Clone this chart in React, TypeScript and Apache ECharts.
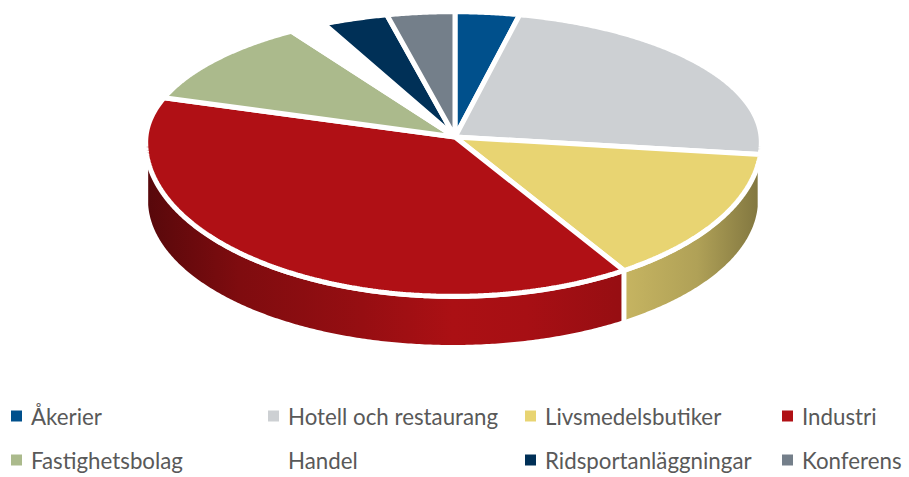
import React, { useEffect, useRef } from "react";
import * as echarts from "echarts";

const categories = ["Åkerier", "Hotell och restaurang", "Livsmedelsbutiker", "Industri", "Fastighetsbolag", "Handel", "Ridsportanläggningar", "Konferens"];
const values = [3.75, 23.25, 14.7, 37.9, 10.65, 2.05, 3.75, 3.95];
const colors = ["#00508C", "#CDD0D3", "#E8D472", "#B01015", "#ABBA8C", "#FFFFFF", "#003057", "#747F8A"];
const legendX = [11, 268, 525, 782];
const legendY = [405, 449];
const shadeStops = [[0, 0.5], [0.15, 0.72], [0.35, 0.85], [0.5, 0.97], [0.62, 0.95], [0.77, 0.86], [0.9, 0.76], [1, 0.56]];

const TOTAL = values.reduce((a, b) => a + b, 0);
const hub = { x: 455, y: 137 };
const view = { R: 304, H: 138 };
const rim = { cx: 453.5, cy: 142, rx: 307.8, top: 130.3, bottom: 154.3 };
const base = { cx: 453, cy: 200, rx: 305, ry: 145 };
const wallGap = 2.6;

function rimPoint(theta: number): [number, number] {
  const dx = view.R * Math.sin(theta);
  const dy = -view.H * Math.cos(theta);
  const solve = (ry: number) => {
    const ox = (hub.x - rim.cx) / rim.rx, oy = (hub.y - rim.cy) / ry;
    const ax = dx / rim.rx, ay = dy / ry;
    const a = ax * ax + ay * ay, b = 2 * (ox * ax + oy * ay), c = ox * ox + oy * oy - 1;
    const t = (-b + Math.sqrt(b * b - 4 * a * c)) / (2 * a);
    return [hub.x + t * dx, hub.y + t * dy] as [number, number];
  };
  const low = solve(rim.bottom);
  return low[1] >= rim.cy ? low : solve(rim.top);
}

function baseY(x: number) {
  const n = Math.min(1, Math.abs((x - base.cx) / base.rx));
  return base.cy + base.ry * Math.sqrt(1 - n * n);
}

function shade(hex: string, k: number) {
  const n = parseInt(hex.slice(1), 16);
  const c = [(n >> 16) & 255, (n >> 8) & 255, n & 255].map((v) => Math.round(v * k));
  return `rgb(${c[0]},${c[1]},${c[2]})`;
}

function makeRenderItem(color: string) {
  return (_: any, api: any) => {
    const a0 = (api.value(0) / TOTAL) * Math.PI * 2;
    const a1 = (api.value(1) / TOTAL) * Math.PI * 2;
    const pts: [number, number][] = [];
    const steps = Math.max(4, Math.ceil((a1 - a0) / 0.008));
    for (let i = 0; i <= steps; i++) pts.push(rimPoint(a0 + ((a1 - a0) * i) / steps));
    const children: any[] = [];
    const lower = pts
      .filter((p) => p[1] >= rim.cy - 1 && Math.abs(p[0] - base.cx) <= base.rx)
      .map((p) => [p[0], p[1] + wallGap] as [number, number]);
    if (lower.length > 1 && color !== "#FFFFFF") {
      const under = lower.map((p) => [p[0], baseY(p[0])]).reverse();
      children.push({
        type: "polygon",
        shape: { points: [...lower, ...under] },
        style: {
          fill: new echarts.graphic.LinearGradient(148, 0, 758, 0,
            shadeStops.map(([offset, k]) => ({ offset, color: shade(color, k) })), true),
        },
      });
      const first = lower[0];
      if (Math.abs(first[0] - base.cx) < base.rx - 10) {
        children.push({
          type: "line",
          shape: { x1: first[0], y1: first[1] - wallGap, x2: first[0], y2: baseY(first[0]) + 1 },
          style: { stroke: "#FFFFFF", lineWidth: 5 },
        });
      }
    }
    children.push({
      type: "polygon",
      shape: { points: [[hub.x, hub.y], ...pts] },
      style: { fill: color, stroke: "#FFFFFF", lineWidth: 5, lineJoin: "bevel" },
    });
    return { type: "group", children };
  };
}

export default function App() {
  const ref = useRef<HTMLDivElement>(null);
  useEffect(() => {
    document.body.style.margin = "0";
    const chart = echarts.init(ref.current!, undefined, { renderer: "svg" });
    let run = 0;
    const series = categories.map((name, i) => {
      const start = run;
      run += values[i];
      return {
        type: "custom",
        name,
        coordinateSystem: "none",
        silent: true,
        itemStyle: { color: colors[i] },
        renderItem: makeRenderItem(colors[i]),
        data: [[start, run]],
      };
    });
    chart.setOption({
      animation: false,
      backgroundColor: "#FFFFFF",
      legend: categories.map((name, i) => ({
        data: [name],
        left: legendX[i % 4],
        top: legendY[i < 4 ? 0 : 1],
        padding: 0,
        itemWidth: 11,
        itemHeight: 11,
        icon: "rect",
        selectedMode: false,
        textStyle: { color: "#595959", fontFamily: "Lato", fontSize: 22.3, padding: [0, 0, 0, 4] },
      })),
      series,
    });
    return () => chart.dispose();
  }, []);
  return <div ref={ref} style={{ position: "fixed", left: 0, top: 0, width: 909, height: 477 }} />;
}
